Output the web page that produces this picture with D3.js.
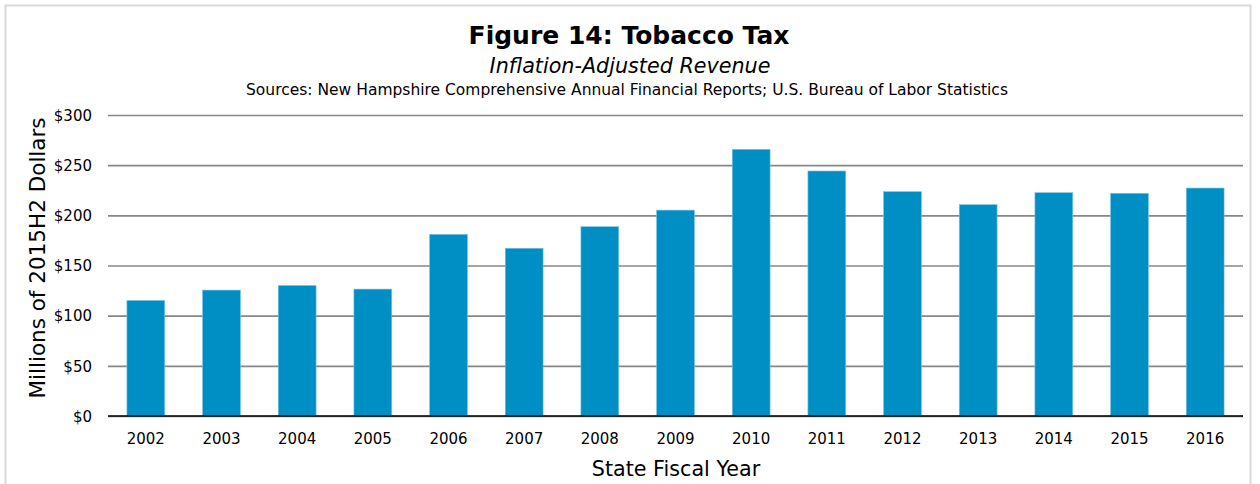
<!DOCTYPE html>
<html>
<head>
<meta charset="utf-8">
<script src="https://cdn.jsdelivr.net/npm/d3@7"></script>
<style>
  html, body { margin: 0; padding: 0; background: #ffffff; }
  svg { display: block; }
  text { font-family: "DejaVu Sans", Verdana, sans-serif; fill: #000; }
</style>
</head>
<body>
<svg id="chart" width="1260" height="484"></svg>
<script>
// Tobacco tax revenue, millions of 2015H2 dollars, by state fiscal year
const years = ["2002", "2003", "2004", "2005", "2006", "2007", "2008", "2009",
               "2010", "2011", "2012", "2013", "2014", "2015", "2016"];
const revenue = [115.2, 125.5, 130.1, 126.5, 181.1, 167.2, 188.7, 205.2,
                 265.8, 244.2, 223.6, 210.6, 222.6, 222.0, 227.2];
const yTicks = [0, 50, 100, 150, 200, 250, 300];

const titleText = "Figure 14: Tobacco Tax";
const subtitleText = "Inflation-Adjusted Revenue";
const sourceText = "Sources: New Hampshire Comprehensive Annual Financial Reports; U.S. Bureau of Labor Statistics";
const xTitle = "State Fiscal Year";
const yTitle = "Millions of 2015H2 Dollars";

const svg = d3.select("#chart");
const plot = { left: 108, right: 1243, top: 115, bottom: 416 };

// outer frame
svg.append("rect")
  .attr("x", 5.5).attr("y", 5.5)
  .attr("width", 1245).attr("height", 490)
  .attr("fill", "#fff").attr("stroke", "#d9d9d9").attr("stroke-width", 2);

const x = d3.scaleBand().domain(years).range([plot.left, plot.right]).paddingInner(0.5).paddingOuter(0.25);
const y = d3.scaleLinear().domain([0, 300]).range([plot.bottom, plot.top]);

// horizontal gridlines and value labels
const yAxis = d3.axisLeft(y).tickValues(yTicks).tickSize(-(plot.right - plot.left))
  .tickPadding(16).tickFormat(d => "$" + d);
const gy = svg.append("g").attr("transform", `translate(${plot.left},0)`).call(yAxis);
gy.select(".domain").remove();
gy.selectAll(".tick line").attr("stroke", "#878787").attr("stroke-width", 1.6);
gy.selectAll(".tick text").style("font-size", "15px").attr("dy", "0.35em").attr("fill", "#000");

// bars
svg.append("g").selectAll("rect").data(revenue).join("rect")
  .attr("x", (d, i) => x(years[i]))
  .attr("y", d => y(d))
  .attr("width", x.bandwidth())
  .attr("height", d => y(0) - y(d))
  .attr("fill", "#008fc5")
  .attr("stroke", "#7cc4e4").attr("stroke-width", 0.6);

// category axis
const xAxis = d3.axisBottom(x).tickSize(0).tickPadding(17);
const gx = svg.append("g").attr("transform", `translate(0,${plot.bottom})`).call(xAxis);
gx.select(".domain").attr("stroke", "#000").attr("stroke-width", 1.6)
  .attr("d", `M${plot.left},0H${plot.right}`);
gx.selectAll(".tick text").style("font-size", "15px").attr("fill", "#000");

// titles
svg.append("text").attr("x", 629).attr("y", 44).attr("text-anchor", "middle")
  .style("font-size", "25px").style("font-weight", "bold").text(titleText);
svg.append("text").attr("x", 630).attr("y", 73).attr("text-anchor", "middle")
  .style("font-size", "20.7px").style("font-style", "italic").text(subtitleText);
svg.append("text").attr("x", 627).attr("y", 95).attr("text-anchor", "middle")
  .style("font-size", "15.5px").text(sourceText);

svg.append("text").attr("x", 676).attr("y", 476).attr("text-anchor", "middle")
  .style("font-size", "20.7px").text(xTitle);
svg.append("text").attr("transform", "translate(45,258) rotate(-90)").attr("text-anchor", "middle")
  .style("font-size", "21.5px").text(yTitle);
</script>
</body>
</html>
